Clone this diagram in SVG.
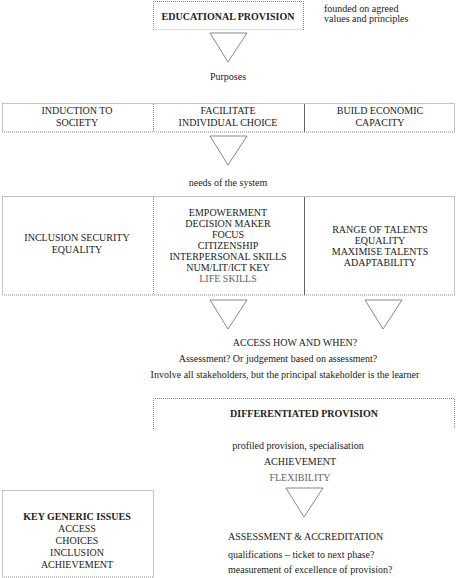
<svg xmlns="http://www.w3.org/2000/svg" width="457" height="578" viewBox="0 0 457 578">
<style>
text{font-family:"Liberation Serif","Times New Roman",serif;font-size:10px;fill:#222;text-anchor:middle}
.b{font-weight:bold}
.l{text-anchor:start}
.f{fill:#666}
.box{fill:none;stroke:#888;stroke-width:1;stroke-dasharray:1 1}
.div{stroke:#666;stroke-width:1}
.tri{fill:#fff;stroke:#555;stroke-width:0.7}
</style>
<rect width="457" height="578" fill="#fff"/>
<g id="connectors">
<polygon class="tri" points="210,33 247,33 228,62"/>
<polygon class="tri" points="210,136 247,136 228,165"/>
<polygon class="tri" points="210,300 247,300 228,329"/>
<polygon class="tri" points="365,300 402,300 383,329"/>
<polygon class="tri" points="286,488 323,488 304,517"/>
</g>
<g id="educational-provision">
<path class="box" d="M153.5,30 V1.5 H303.5 V30"/>
<line x1="153.5" y1="29.5" x2="303.5" y2="29.5" stroke="#bbb" stroke-dasharray="1 1"/>
<text class="b" x="228" y="20">EDUCATIONAL PROVISION</text>
<text class="l" x="324" y="12">founded on agreed</text>
<text class="l" x="324" y="22">values and principles</text>
</g>
<g id="purposes"><text x="228" y="80">Purposes</text></g>
<g id="purposes-row">
<rect class="box" x="2.5" y="103.5" width="452" height="28.5"/>
<line class="box" x1="153.5" y1="104" x2="153.5" y2="132"/>
<line class="div" x1="304.5" y1="104" x2="304.5" y2="132"/>
<text x="77" y="114">INDUCTION TO</text>
<text x="77" y="126">SOCIETY</text>
<text x="228" y="114">FACILITATE</text>
<text x="228" y="126">INDIVIDUAL CHOICE</text>
<text x="380" y="114">BUILD ECONOMIC</text>
<text x="380" y="126">CAPACITY</text>
</g>
<g id="needs"><text x="228" y="186">needs of the system</text></g>
<g id="needs-row">
<rect class="box" x="2.5" y="196.5" width="452" height="98.5"/>
<line class="box" x1="153.5" y1="197" x2="153.5" y2="295"/>
<line class="div" x1="304.5" y1="197" x2="304.5" y2="295"/>
<text x="77" y="241">INCLUSION SECURITY</text>
<text x="77" y="253">EQUALITY</text>
<text x="228" y="216">EMPOWERMENT</text>
<text x="228" y="227">DECISION MAKER</text>
<text x="228" y="238">FOCUS</text>
<text x="228" y="249">CITIZENSHIP</text>
<text x="228" y="260">INTERPERSONAL SKILLS</text>
<text x="228" y="271">NUM/LIT/ICT KEY</text>
<text class="f" x="228" y="282">LIFE SKILLS</text>
<text x="380" y="233">RANGE OF TALENTS</text>
<text x="380" y="244">EQUALITY</text>
<text x="380" y="255">MAXIMISE TALENTS</text>
<text x="380" y="266">ADAPTABILITY</text>
</g>
<g id="access">
<text x="295" y="346">ACCESS HOW AND WHEN?</text>
<text x="278" y="362">Assessment?  Or judgement based on assessment?</text>
<text x="285" y="378">Involve all stakeholders, but the principal stakeholder is the learner</text>
</g>
<g id="differentiated-provision">
<path class="box" d="M153.5,429 V398.5 H454.5 V429"/>
<text class="b" x="304" y="417">DIFFERENTIATED  PROVISION</text>
<text x="298" y="449">profiled provision, specialisation</text>
<text x="300" y="465">ACHIEVEMENT</text>
<text class="f" x="300" y="481">FLEXIBILITY</text>
</g>
<g id="key-generic-issues">
<rect class="box" x="2.5" y="490.5" width="151" height="86.5"/>
<text class="b" x="77" y="520">KEY GENERIC ISSUES</text>
<text x="77" y="532">ACCESS</text>
<text x="77" y="544">CHOICES</text>
<text x="77" y="556">INCLUSION</text>
<text x="77" y="568">ACHIEVEMENT</text>
</g>
<g id="assessment">
<text class="l" x="228" y="540">ASSESSMENT &amp; ACCREDITATION</text>
<text class="l" x="228" y="558">qualifications – ticket to next phase?</text>
<text class="l" x="228" y="573">measurement of excellence of provision?</text>
</g>
</svg>
